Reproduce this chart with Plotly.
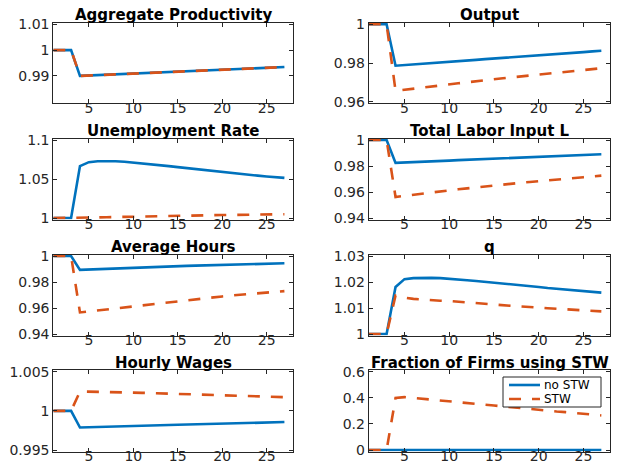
import plotly.graph_objects as go

t = list(range(1, 28))

prod_blue = [1, 1, 1, 0.99000, 0.99016, 0.99031, 0.99047, 0.99062, 0.99078, 0.99093, 0.99108, 0.99124,
             0.99139, 0.99154, 0.99169, 0.99184, 0.99199, 0.99214, 0.99229, 0.99243, 0.99258, 0.99272,
             0.99287, 0.99301, 0.99315, 0.99329, 0.99343]
prod_red = [1, 1, 1, 0.99000, 0.99016, 0.99031, 0.99047, 0.99062, 0.99078, 0.99093, 0.99108, 0.99124,
            0.99139, 0.99154, 0.99169, 0.99184, 0.99199, 0.99214, 0.99229, 0.99243, 0.99258, 0.99272,
            0.99287, 0.99301, 0.99315, 0.99329, 0.99343]

out_blue = [1, 1, 1, 0.9786, 0.9789, 0.9793, 0.9796, 0.9800, 0.9803, 0.9806, 0.9810, 0.9813, 0.9816,
            0.9820, 0.9823, 0.9826, 0.9830, 0.9833, 0.9836, 0.9840, 0.9843, 0.9846, 0.9850, 0.9853,
            0.9856, 0.9860, 0.9863]
out_red = [1, 1, 1, 0.9656, 0.9662, 0.9668, 0.9673, 0.9679, 0.9684, 0.9690, 0.9695, 0.9700, 0.9706,
           0.9711, 0.9716, 0.9721, 0.9726, 0.9731, 0.9736, 0.9741, 0.9746, 0.9750, 0.9755, 0.9760,
           0.9764, 0.9769, 0.9773]

unemp_blue = [1, 1, 1, 1.0665, 1.0716, 1.0728, 1.0731, 1.0728, 1.0722, 1.0712, 1.0701, 1.0690, 1.0678,
              1.0665, 1.0652, 1.0639, 1.0626, 1.0613, 1.0600, 1.0588, 1.0576, 1.0565, 1.0554, 1.0543,
              1.0533, 1.0524, 1.0515]
unemp_red = [1, 1, 1, 1.0000, 1.0004, 1.0007, 1.0010, 1.0013, 1.0016, 1.0018, 1.0020, 1.0023, 1.0025,
             1.0027, 1.0029, 1.0031, 1.0033, 1.0035, 1.0036, 1.0038, 1.0040, 1.0041, 1.0043, 1.0044,
             1.0045, 1.0047, 1.0048]

labor_blue = [1, 1, 1, 0.9824, 0.9826, 0.9829, 0.9832, 0.9835, 0.9838, 0.9841, 0.9845, 0.9848, 0.9852,
              0.9855, 0.9858, 0.9861, 0.9864, 0.9867, 0.9870, 0.9873, 0.9876, 0.9879, 0.9881, 0.9884,
              0.9886, 0.9888, 0.9890]
labor_red = [1, 1, 1, 0.9562, 0.9571, 0.9581, 0.9590, 0.9599, 0.9606, 0.9613, 0.9621, 0.9628, 0.9636,
             0.9643, 0.9650, 0.9657, 0.9664, 0.9671, 0.9677, 0.9684, 0.9690, 0.9696, 0.9702, 0.9708,
             0.9714, 0.9720, 0.9726]

hours_blue = [1, 1, 1, 0.9893, 0.9896, 0.9899, 0.9902, 0.9905, 0.9908, 0.9910, 0.9913, 0.9915, 0.9918,
              0.9920, 0.9922, 0.9924, 0.9926, 0.9928, 0.9930, 0.9932, 0.9934, 0.9936, 0.9938, 0.9939,
              0.9941, 0.9942, 0.9944]
hours_red = [1, 1, 1, 0.9566, 0.9574, 0.9582, 0.9590, 0.9598, 0.9606, 0.9614, 0.9622, 0.9630, 0.9638,
             0.9646, 0.9654, 0.9661, 0.9668, 0.9675, 0.9682, 0.9689, 0.9696, 0.9702, 0.9708, 0.9714,
             0.9720, 0.9725, 0.9730]

q_blue = [1, 1, 1, 1.0181, 1.0211, 1.0215, 1.0216, 1.0216, 1.0215, 1.0213, 1.0210, 1.0207, 1.0204,
          1.0201, 1.0198, 1.0194, 1.0191, 1.0187, 1.0184, 1.0181, 1.0177, 1.0174, 1.0171, 1.0168,
          1.0165, 1.0162, 1.0159]
q_red = [1, 1, 1, 1.0148, 1.0140, 1.0135, 1.0132, 1.0130, 1.0128, 1.0127, 1.0124, 1.0122, 1.0119,
         1.0116, 1.0113, 1.0111, 1.0108, 1.0106, 1.0103, 1.0101, 1.0099, 1.0097, 1.0095, 1.0093,
         1.0091, 1.0089, 1.0087]

wage_blue = [1, 1, 1, 0.99787, 0.99791, 0.99795, 0.99798, 0.99801, 0.99805, 0.99808, 0.99810, 0.99813,
             0.99816, 0.99819, 0.99822, 0.99825, 0.99828, 0.99830, 0.99833, 0.99836, 0.99839, 0.99842,
             0.99845, 0.99848, 0.99851, 0.99854, 0.99857]
wage_red = [1, 1, 1, 1.00247, 1.00246, 1.00244, 1.00241, 1.00239, 1.00236, 1.00233, 1.00230, 1.00227,
            1.00224, 1.00220, 1.00217, 1.00213, 1.00209, 1.00205, 1.00201, 1.00197, 1.00194, 1.00190,
            1.00187, 1.00184, 1.00181, 1.00178, 1.00175]

frac_blue = [0] * 27
frac_red = [0, 0, 0, 0.398, 0.405, 0.399, 0.392, 0.385, 0.377, 0.370, 0.364, 0.359, 0.353, 0.347,
            0.341, 0.334, 0.327, 0.319, 0.312, 0.305, 0.300, 0.295, 0.290, 0.284, 0.279, 0.272, 0.265]

titles = ["Aggregate Productivity", "Output", "Unemployment Rate", "Total Labor Input L",
          "Average Hours", "q", "Hourly Wages", "Fraction of Firms using STW"]
series = [(prod_blue, prod_red), (out_blue, out_red), (unemp_blue, unemp_red), (labor_blue, labor_red),
          (hours_blue, hours_red), (q_blue, q_red), (wage_blue, wage_red), (frac_blue, frac_red)]
y_ranges = [[0.98, 1.01], [0.96, 1.0], [1.0, 1.1], [0.94, 1.0],
            [0.94, 1.0], [1.0, 1.03], [0.995, 1.005], [0.0, 0.6]]
y_ticks = [[0.99, 1.0, 1.01], [0.96, 0.98, 1.0], [1.0, 1.05, 1.1], [0.94, 0.96, 0.98, 1.0],
           [0.94, 0.96, 0.98, 1.0], [1.0, 1.01, 1.02, 1.03], [0.995, 1.0, 1.005], [0.0, 0.2, 0.4, 0.6]]
y_ticktext = [["0.99", "1", "1.01"], ["0.96", "0.98", "1"], ["1", "1.05", "1.1"],
              ["0.94", "0.96", "0.98", "1"], ["0.94", "0.96", "0.98", "1"],
              ["1", "1.01", "1.02", "1.03"], ["0.995", "1", "1.005"], ["0", "0.2", "0.4", "0.6"]]
x_ticks = [5, 10, 15, 20, 25]
legend_names = ["no STW", "STW"]

W, H = 617, 465
col_px = [(53.3, 293.3), (368.7, 610.3)]
row_px = [(24.3, 101.7), (140.0, 218.0), (256.0, 334.0), (371.7, 450.0)]
PAD = 1.5  # px of extra room so lines lying on the frame are not half-clipped

BLUE = "#0072BD"
RED = "#D95319"
AX = "#262626"
FONT = "DejaVu Sans"
DASH = "12px,11px"

fig = go.Figure()
annotations = []
shapes = []
layout_axes = {}
for i in range(8):
    r, c = divmod(i, 2)
    n = i + 1
    xa = "x" if n == 1 else f"x{n}"
    ya = "y" if n == 1 else f"y{n}"
    blue, red = series[i]
    fig.add_trace(go.Scatter(x=t, y=blue, mode="lines", xaxis=xa, yaxis=ya,
                             line=dict(color=BLUE, width=2.6), name=legend_names[0],
                             showlegend=False, hoverinfo="skip"))
    fig.add_trace(go.Scatter(x=t, y=red, mode="lines", xaxis=xa, yaxis=ya,
                             line=dict(color=RED, width=2.6, dash=DASH), name=legend_names[1],
                             showlegend=False, hoverinfo="skip"))
    x0, x1 = col_px[c]
    y0, y1 = row_px[r]
    lo, hi = y_ranges[i]
    per_px = (hi - lo) / (y1 - y0)
    xd = [x0 / W, x1 / W]
    yd = [1 - (y1 + PAD) / H, 1 - (y0 - PAD) / H]
    yr = [lo - PAD * per_px, hi + PAD * per_px]
    common = dict(showline=True, linecolor=AX, linewidth=1, mirror="allticks", ticks="inside",
                  ticklen=4, tickwidth=1, tickcolor=AX, showgrid=False, zeroline=False,
                  automargin=False, fixedrange=True,
                  tickfont=dict(family=FONT, size=14, color=AX))
    layout_axes["xaxis" if n == 1 else f"xaxis{n}"] = dict(
        domain=xd, range=[1, 28], tickmode="array", tickvals=x_ticks,
        ticktext=[str(v) for v in x_ticks], anchor=ya, ticklabelstandoff=-8, **common)
    layout_axes["yaxis" if n == 1 else f"yaxis{n}"] = dict(
        domain=yd, range=yr, tickmode="array", tickvals=y_ticks[i],
        ticktext=y_ticktext[i], anchor=xa, **common)
    annotations.append(dict(text=f"<b>{titles[i]}</b>", x=(xd[0] + xd[1]) / 2, y=1 - y0 / H,
                            xref="paper", yref="paper", xanchor="center", yanchor="bottom",
                            showarrow=False, yshift=-2,
                            font=dict(family=FONT, size=15, color="black")))

# legend box in the last panel (drawn with shapes + text)
lx0, lx1, ly0, ly1 = 503 / W, 601 / W, 1 - 407 / H, 1 - 377 / H
shapes.append(dict(type="rect", xref="paper", yref="paper", x0=lx0, x1=lx1, y0=ly0, y1=ly1,
                   line=dict(color=AX, width=1), fillcolor="white", layer="above"))
legend_colors = [BLUE, RED]
legend_dash = ["solid", DASH]
legend_y = [1 - 385.0 / H, 1 - 399.0 / H]
for k in range(2):
    shapes.append(dict(type="line", xref="paper", yref="paper", x0=509 / W, x1=540 / W,
                       y0=legend_y[k], y1=legend_y[k], layer="above",
                       line=dict(color=legend_colors[k], width=2.6, dash=legend_dash[k])))
    annotations.append(dict(text=legend_names[k], x=543 / W, y=legend_y[k], xref="paper",
                            yref="paper", xanchor="left", yanchor="middle", showarrow=False,
                            borderpad=0,
                            font=dict(family=FONT, size=12, color="black")))

fig.update_layout(**layout_axes)
fig.update_layout(
    width=W, height=H, margin=dict(l=0, r=0, t=0, b=0, autoexpand=False),
    paper_bgcolor="white", plot_bgcolor="white",
    annotations=annotations, shapes=shapes,
    showlegend=False,
)
fig.write_html("out.html", config={"displayModeBar": False},
               post_script="document.body.style.margin='0';document.body.style.overflow='hidden';")
